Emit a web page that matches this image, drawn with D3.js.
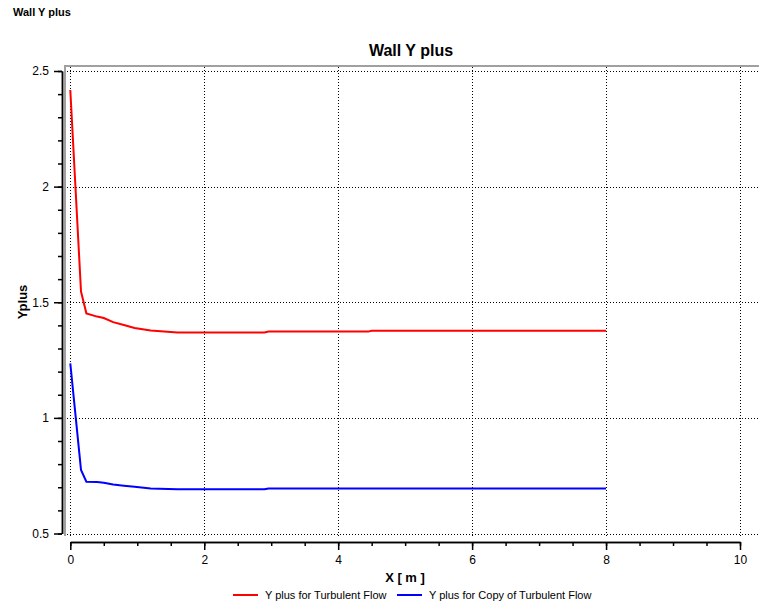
<!DOCTYPE html>
<html>
<head>
<meta charset="utf-8">
<script src="https://cdn.jsdelivr.net/npm/d3@7"></script>
<style>
  body { margin: 0; background: #fff; }
  text { font-family: "Liberation Sans", Arial, sans-serif; fill: #000; }
</style>
</head>
<body>
<svg id="chart" width="767" height="612"></svg>
<script>
// data
const xTurb = [0, 0.16, 0.24, 0.4, 0.5, 0.64, 0.8, 0.96, 1.2, 1.6, 2.9, 2.96, 4.45, 4.5, 8];
const yTurb = [2.418, 1.546, 1.452, 1.438, 1.432, 1.414, 1.402, 1.389, 1.378, 1.369, 1.369, 1.373, 1.373, 1.377, 1.377];
const xCopy = [0, 0.16, 0.24, 0.4, 0.5, 0.64, 0.8, 0.96, 1.2, 1.6, 2.9, 2.96, 8];
const yCopy = [1.236, 0.775, 0.724, 0.723, 0.719, 0.712, 0.707, 0.702, 0.695, 0.691, 0.691, 0.695, 0.695];
const seriesNames = ['Y plus for Turbulent Flow', 'Y plus for Copy of Turbulent Flow'];
const seriesColors = ['#ff0000', '#0000ff'];
const xTicks = [0, 2, 4, 6, 8, 10];
const yTicks = [0.5, 1, 1.5, 2, 2.5];

const svg = d3.select('#chart');

const x = d3.scaleLinear().domain([0, 10]).range([70.3, 740]);
const y = d3.scaleLinear().domain([0.5, 2.5]).range([533.5, 71]);

// titles
svg.append('text').attr('x', 13).attr('y', 16)
  .style('font-size', '11px').style('font-weight', 'bold').text('Wall Y plus');
svg.append('text').attr('x', 411).attr('y', 56).attr('text-anchor', 'middle')
  .style('font-size', '16px').style('font-weight', 'bold').text('Wall Y plus');

// plot frame (top + left only)
svg.append('path').attr('d', 'M65,536V66H759')
  .attr('fill', 'none').attr('stroke', '#a0a0a0').attr('stroke-width', 2);

// grid
const grid = svg.append('g').attr('stroke', '#000').attr('stroke-dasharray', '1,2');
grid.selectAll('line.v').data(xTicks).enter().append('line')
  .attr('x1', (d) => Math.round(x(d)) + 0.5).attr('x2', (d) => Math.round(x(d)) + 0.5)
  .attr('y1', 67).attr('y2', 536);
grid.selectAll('line.h').data(yTicks).enter().append('line')
  .attr('y1', (d) => Math.round(y(d)) + 0.5).attr('y2', (d) => Math.round(y(d)) + 0.5)
  .attr('x1', 67).attr('x2', 758);

// axes
const yMinor = d3.range(5, 26).map((d) => d / 10);
svg.append('g').attr('transform', 'translate(62,0)')
  .call(d3.axisLeft(y).tickValues(yMinor).tickSize(4).tickSizeOuter(0).tickFormat(''));
svg.append('g').attr('transform', 'translate(62,0)')
  .call(d3.axisLeft(y).tickValues(yTicks).tickSize(8).tickSizeOuter(0).tickPadding(5).tickFormat(d3.format('')))
  .call((g) => g.selectAll('text').style('font-size', '12px').style('font-family', '"Liberation Sans", Arial, sans-serif'));

const xMinor = d3.range(0, 21).map((d) => d / 2);
svg.append('g').attr('transform', 'translate(0,542)')
  .call(d3.axisBottom(x).tickValues(xMinor).tickSize(4).tickSizeOuter(0).tickFormat(''));
svg.append('g').attr('transform', 'translate(0,542)')
  .call(d3.axisBottom(x).tickValues(xTicks).tickSize(8).tickSizeOuter(0).tickPadding(5).tickFormat(d3.format('')))
  .call((g) => g.selectAll('text').style('font-size', '12px').style('font-family', '"Liberation Sans", Arial, sans-serif'));
svg.selectAll('.domain, .tick line').attr('stroke', '#000').attr('stroke-width', 1.5);

// axis labels
svg.append('text').attr('x', 405).attr('y', 582).attr('text-anchor', 'middle')
  .style('font-size', '13px').style('font-weight', 'bold').text('X [ m ]');
svg.append('text').attr('transform', 'translate(27,302) rotate(-90)').attr('text-anchor', 'middle')
  .style('font-size', '13px').style('font-weight', 'bold').text('Yplus');

// series
const line = d3.line().x((d) => x(d[0])).y((d) => y(d[1]));
const series = [d3.zip(xTurb, yTurb), d3.zip(xCopy, yCopy)];
svg.selectAll('path.series').data(series).enter().append('path')
  .attr('class', 'series')
  .attr('d', line)
  .attr('fill', 'none')
  .attr('stroke', (_, i) => seriesColors[i])
  .attr('stroke-width', 2);

// legend
const legendX = [233, 397];
const legend = svg.selectAll('g.legend').data(seriesNames).enter().append('g')
  .attr('class', 'legend')
  .attr('transform', (_, i) => `translate(${legendX[i]},595)`);
legend.append('line').attr('x1', 0).attr('x2', 25)
  .attr('stroke', (_, i) => seriesColors[i]).attr('stroke-width', 2);
legend.append('text').attr('x', 32).attr('y', 4)
  .style('font-size', '11px').text((d) => d);
</script>
</body>
</html>
